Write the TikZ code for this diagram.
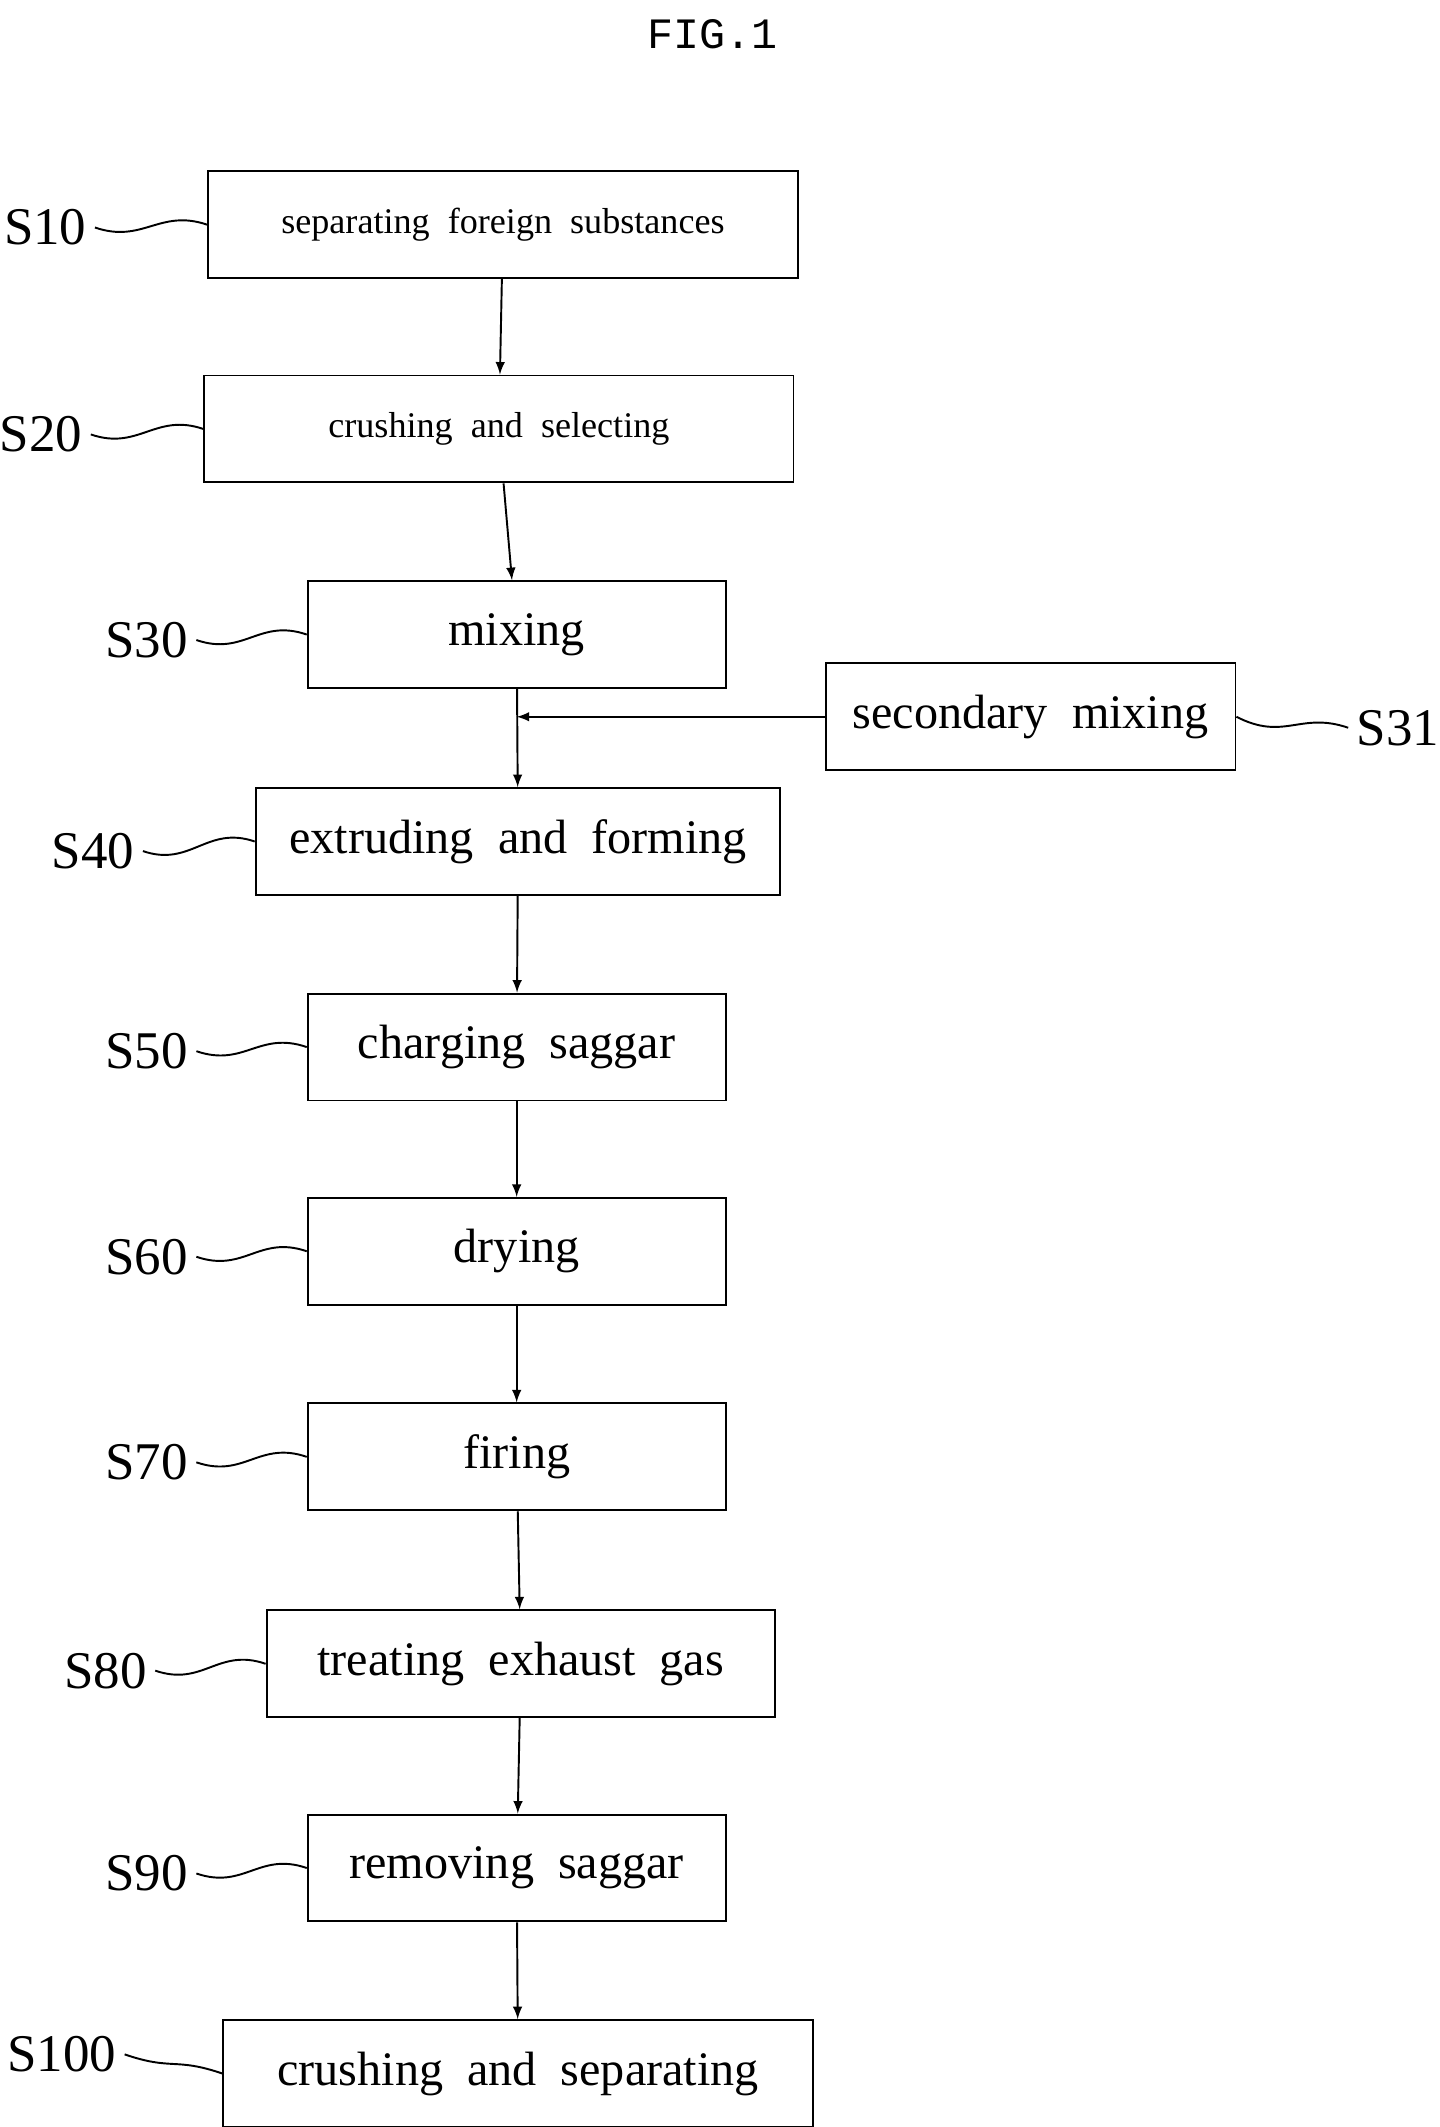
\documentclass[tikz,border=0pt]{standalone}
\usepackage{fontspec}
\setmainfont{Liberation Serif}
\setmonofont{Liberation Mono}
\usetikzlibrary{positioning}

\tikzset{
  procbox/.style={draw, thick, minimum height=1.56cm, inner sep=0pt, font=\fontsize{20}{24}\selectfont},
  smallbox/.style={procbox, font=\fontsize{15}{18}\selectfont},
  lbl/.style={font=\fontsize{22}{26}\selectfont},
  flow/.style={->, thick, >=latex},
  wave/.style={thick}
}

\begin{document}
\begin{tikzpicture}[x=0.02cm, y=-0.02cm]
  \useasboundingbox (0,0) rectangle (1050,1552);
  \node[font=\ttfamily\fontsize{18}{22}\selectfont] (Fig) at (520,25) {FIG.1};

  % process steps
  \node[smallbox, minimum width=8.6cm] (S10) at (367,164) {separating\ \ foreign\ \ substances};
  \node[smallbox, minimum width=8.6cm] (S20) at (364,313) {crushing\ \ and\ \ selecting};
  \node[procbox, minimum width=6.1cm] (S30) at (377,463) {mixing};
  \node[procbox, minimum width=5.98cm] (S31) at (752,523) {secondary\ \ mixing};
  \node[procbox, minimum width=7.66cm] (S40) at (378,614) {extruding\ \ and\ \ forming};
  \node[procbox, minimum width=6.1cm] (S50) at (377,764) {charging\ \ saggar};
  \node[procbox, minimum width=6.1cm] (S60) at (377,913) {drying};
  \node[procbox, minimum width=6.1cm] (S70) at (377,1063) {firing};
  \node[procbox, minimum width=7.42cm] (S80) at (380,1214) {treating\ \ exhaust\ \ gas};
  \node[procbox, minimum width=6.1cm] (S90) at (377,1363) {removing\ \ saggar};
  \node[procbox, minimum width=8.6cm] (S100) at (378,1513) {crushing\ \ and\ \ separating};

  % step labels
  \node[lbl] (L10) at (33,166) {S10};
  \node[lbl] (L20) at (30,317) {S20};
  \node[lbl] (L30) at (107,467) {S30};
  \node[lbl] (L31) at (1020,531) {S31};
  \node[lbl] (L40) at (68,621) {S40};
  \node[lbl] (L50) at (107,767) {S50};
  \node[lbl] (L60) at (107,917) {S60};
  \node[lbl] (L70) at (107,1067) {S70};
  \node[lbl] (L80) at (77,1219) {S80};
  \node[lbl] (L90) at (107,1367) {S90};
  \node[lbl] (L100) at (45,1499) {S100};

  \foreach \l/\s in {L10/S10, L20/S20, L30/S30, L40/S40, L50/S50, L60/S60, L70/S70, L80/S80, L90/S90, L100/S100}
    \draw[wave] (\l.east) .. controls +(35,12) and +(-35,-12) .. (\s.west);
  \draw[wave] (S31.east) .. controls +(35,18) and +(-35,-12) .. (L31.west);

  % flow
  \draw[flow] (S10) -- (S20);
  \draw[flow] (S20) -- (S30);
  \draw[flow] (S30) -- (S40);
  \coordinate (Join) at (S30.south |- S31.west);
  \draw[flow] (S31.west) -- (Join);
  \draw[flow] (S40) -- (S50);
  \draw[flow] (S50) -- (S60);
  \draw[flow] (S60) -- (S70);
  \draw[flow] (S70) -- (S80);
  \draw[flow] (S80) -- (S90);
  \draw[flow] (S90) -- (S100);
\end{tikzpicture}
\end{document}
